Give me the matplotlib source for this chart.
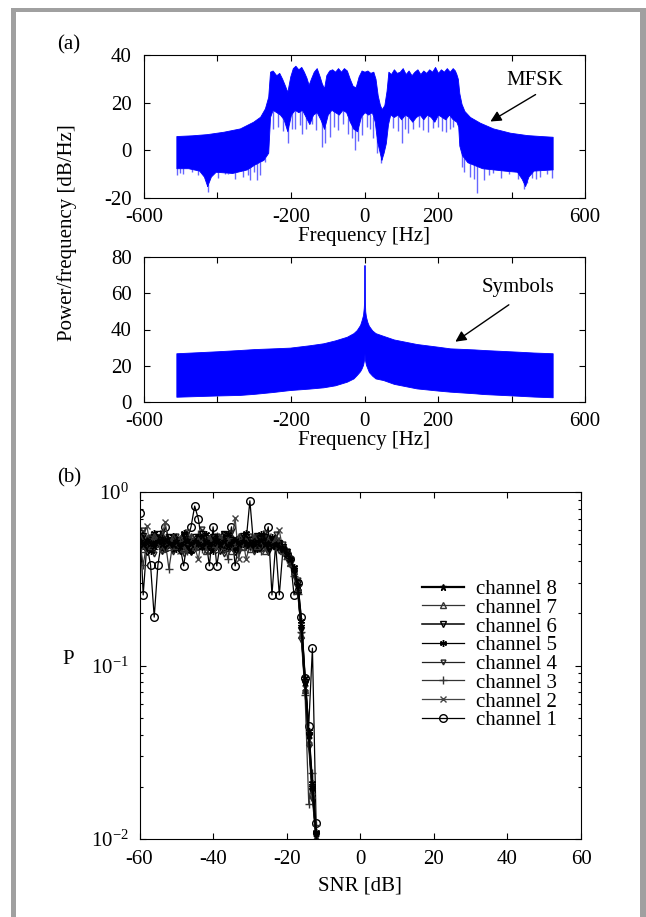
import numpy as np
import matplotlib
matplotlib.use("Agg")
import matplotlib.pyplot as plt
from matplotlib.patches import Rectangle

plt.rcParams["font.family"] = "Liberation Serif"
plt.rcParams["font.size"] = 15
plt.rcParams["axes.unicode_minus"] = False
plt.rcParams["mathtext.fontset"] = "custom"
plt.rcParams["mathtext.rm"] = "Liberation Serif"

# ---- (a) MFSK spectrum envelopes ----
mfsk_up_f = [-512, -470, -429, -384, -339, -303, -284, -271, -262, -257, -250, -240, -232, -224,
             -216, -210, -202, -195, -188, -180, -172, -165, -158, -152, -146, -138, -130, -122,
             -116, -110, -104, -96, -88, -80, -72, -64, -56, -48, -40, -32, -24, -16, -8, 0, 8,
             16, 24, 30, 36, 42, 47, 54, 60, 65, 72, 80, 88, 96, 104, 112, 120, 128, 136, 144,
             152, 160, 168, 176, 184, 192, 200, 208, 216, 224, 232, 240, 246, 250, 254, 258, 264,
             272, 287, 314, 350, 396, 442, 480, 512]
mfsk_up = [6.0, 6.3, 6.8, 7.8, 9.2, 12.0, 14.1, 17.6, 22.5, 33.0, 33.5, 31.5, 32.5, 30.0,
           27.0, 24.5, 31.0, 34.5, 35.5, 34.0, 35.0, 33.0, 30.5, 27.5, 30.0, 33.0, 34.5, 31.0,
           28.0, 26.0, 31.5, 33.5, 34.0, 33.0, 34.5, 33.0, 34.5, 33.5, 30.0, 27.0, 26.5, 31.0,
           33.5, 33.0, 33.5, 32.5, 33.0, 30.0, 23.0, 19.0, 17.3, 19.0, 25.0, 33.0, 32.0, 34.0,
           32.5, 33.0, 34.5, 32.0, 33.5, 31.5, 33.0, 34.0, 32.0, 33.5, 32.5, 34.0, 33.0, 35.0,
           32.5, 34.0, 33.0, 34.5, 33.0, 34.5, 33.5, 32.0, 30.0, 24.0, 19.5, 16.5, 14.0, 11.6,
           9.2, 7.4, 6.4, 6.0, 5.7]
mfsk_lo_f = [-512, -480, -450, -437, -428, -418, -405, -360, -320, -300, -275, -262, -257, -250,
             -240, -230, -220, -210, -200, -190, -180, -170, -160, -150, -140, -130, -120, -110,
             -100, -90, -80, -70, -60, -50, -40, -30, -20, -10, 0, 10, 20, 28, 34, 40, 46, 52,
             58, 64, 70, 80, 90, 100, 110, 120, 130, 140, 150, 160, 170, 180, 190, 200, 210, 220,
             230, 240, 250, 255, 258, 265, 280, 320, 380, 415, 428, 437, 446, 460, 512]
mfsk_lo = [-7.5, -7.5, -8.5, -11.0, -15.0, -11.0, -9.0, -9.5, -8.0, -6.0, -4.0, -1.0, 14.0, 17.0,
           16.0, 15.0, 13.0, 8.0, 15.0, 17.0, 16.0, 17.0, 14.0, 11.0, 15.0, 16.0, 13.0, 9.0,
           15.0, 17.0, 16.0, 15.0, 17.0, 16.0, 12.0, 9.0, 8.0, 14.0, 16.0, 15.0, 16.0, 12.0,
           4.0, 0.0, -4.0, -1.0, 3.0, 11.0, 15.0, 14.0, 15.0, 13.0, 15.0, 14.0, 12.0, 14.0,
           15.0, 13.0, 15.0, 14.0, 12.0, 15.0, 14.0, 13.0, 15.0, 13.0, 12.0, 10.0, 2.0, -2.0,
           -5.0, -7.5, -8.5, -9.0, -12.0, -15.0, -11.0, -8.5, -8.0]
# thin downward spikes below the solid body
mfsk_spike_f = [-510, -502, -493, -470, -452, -426, -398, -380, -371, -352, -330, -318, -312,
                -300, -293, -284, -272, -248, -235, -222, -207, -197, -190, -176, -170, -160,
                -144, -132, -117, -108, -94, -84, -71, -58, -44, -35, -26, -17, -8, 6, 14, 24,
                33, 44, 78, 90, 101, 110, 119, 132, 148, 160, 173, 186, 200, 212, 223, 232, 241,
                264, 272, 287, 298, 307, 324, 338, 351, 372, 392, 418, 433, 442, 456, 468, 478,
                496, 510]
mfsk_spike = [-10.5, -9.5, -10.0, -9.0, -10.5, -17.4, -11.5, -10.0, -10.0, -12.0, -11.0, -10.5,
              -12.5, -9.0, -12.5, -10.5, -5.0, 9.0, 10.0, 8.0, 3.0, 9.0, 9.0, 10.5, 7.0, 9.0,
              11.0, 8.5, 1.5, 3.0, 5.7, 10.0, 8.5, 11.0, 7.0, 5.0, 0.0, 4.0, 6.4, 10.0, 9.0, 5.0,
              -1.3, -5.4, 9.5, 8.0, 3.0, 9.0, 7.1, 9.0, 10.0, 8.5, 7.5, 9.5, 10.0, 8.0, 7.5,
              9.0, 10.0, -6.9, -9.0, -11.0, -12.0, -18.0, -12.5, -10.5, -9.6, -11.5, -10.0,
              -12.0, -16.4, -13.8, -11.5, -12.0, -11.0, -10.0, -11.5]

# ---- (a) symbol spectrum envelopes ----
sym_f = [-512, -450, -400, -339, -300, -250, -203, -150, -112, -80, -48, -30, -21, -12, -8, -4,
         -2, -1, 0, 1, 2, 4, 8, 12, 21, 30, 51, 80, 142, 200, 233, 300, 323, 414, 460, 512]
sym_up = [26.9, 27.5, 28.0, 28.7, 29.2, 29.6, 30.0, 31.3, 32.4, 34.0, 36.0, 38.0, 39.7, 42.5,
          45.0, 48.0, 52.0, 56.0, 75.6, 56.0, 50.0, 47.0, 44.0, 42.0, 39.5, 38.0, 36.5, 34.5,
          32.0, 30.5, 29.6, 29.0, 28.7, 27.8, 27.3, 26.9]
sym_lo = [2.9, 3.3, 3.6, 3.9, 4.5, 5.5, 6.6, 7.4, 8.1, 9.2, 11.2, 13.0, 14.9, 17.0, 18.5, 20.5,
          22.5, 24.0, 26.9, 24.0, 22.5, 20.5, 18.5, 16.5, 14.5, 13.0, 12.1, 10.0, 7.5, 6.3, 5.7,
          4.8, 4.4, 3.5, 3.0, 2.6]

# ---- (b) detection probability per channel ----
snr = np.arange(-60, -10, 1)
ch1 = [0.76, 0.255, 0.50, 0.38, 0.19, 0.38, 0.52, 0.63, 0.54, 0.50,
       0.52, 0.49, 0.375, 0.53, 0.63, 0.83, 0.70, 0.50, 0.54, 0.375,
       0.63, 0.375, 0.51, 0.56, 0.48, 0.63, 0.375, 0.52, 0.49, 0.53,
       0.89, 0.50, 0.54, 0.48, 0.52, 0.63, 0.255, 0.50, 0.255, 0.47,
       0.44, 0.41, 0.255, 0.30, 0.19, 0.085, 0.045, 0.126, 0.0123, 0.005]
ch2 = [0.49, 0.54, 0.64, 0.47, 0.52, 0.50, 0.55, 0.67, 0.48, 0.53,
       0.51, 0.46, 0.55, 0.49, 0.53, 0.48, 0.41, 0.56, 0.52, 0.50,
       0.54, 0.48, 0.52, 0.57, 0.49, 0.53, 0.705, 0.41, 0.55, 0.41,
       0.50, 0.55, 0.47, 0.52, 0.49, 0.56, 0.48, 0.53, 0.60, 0.46,
       0.44, 0.39, 0.36, 0.28, 0.15, 0.074, 0.037, 0.019, 0.0101, 0.005]
ch3 = [0.53, 0.38, 0.51, 0.56, 0.47, 0.54, 0.49, 0.52, 0.36, 0.50,
       0.55, 0.48, 0.52, 0.46, 0.54, 0.50, 0.57, 0.47, 0.53, 0.49,
       0.51, 0.56, 0.48, 0.53, 0.41, 0.55, 0.50, 0.47, 0.54, 0.51,
       0.48, 0.53, 0.50, 0.46, 0.56, 0.49, 0.54, 0.47, 0.52, 0.45,
       0.41, 0.42, 0.33, 0.26, 0.157, 0.068, 0.016, 0.024, 0.012, 0.0052]
ch4 = [0.50, 0.60, 0.47, 0.55, 0.44, 0.52, 0.58, 0.48, 0.53, 0.45,
       0.56, 0.50, 0.44, 0.59, 0.52, 0.47, 0.55, 0.61, 0.46, 0.53,
       0.48, 0.56, 0.52, 0.44, 0.50, 0.58, 0.53, 0.46, 0.55, 0.49,
       0.56, 0.45, 0.53, 0.50, 0.58, 0.47, 0.52, 0.57, 0.46, 0.50,
       0.46, 0.38, 0.33, 0.31, 0.14, 0.07, 0.034, 0.017, 0.0098, 0.0046]
ch5 = [0.57, 0.49, 0.52, 0.46, 0.58, 0.51, 0.54, 0.47, 0.50, 0.56,
       0.47, 0.53, 0.58, 0.50, 0.46, 0.52, 0.55, 0.48, 0.57, 0.51,
       0.46, 0.55, 0.51, 0.48, 0.57, 0.50, 0.47, 0.54, 0.50, 0.58,
       0.49, 0.51, 0.47, 0.57, 0.52, 0.48, 0.55, 0.51, 0.50, 0.47,
       0.42, 0.41, 0.37, 0.27, 0.18, 0.085, 0.042, 0.021, 0.011, 0.0055]
ch6 = [0.48, 0.56, 0.45, 0.53, 0.50, 0.57, 0.46, 0.52, 0.55, 0.47,
       0.53, 0.46, 0.56, 0.49, 0.45, 0.55, 0.48, 0.57, 0.51, 0.46,
       0.55, 0.50, 0.46, 0.57, 0.48, 0.53, 0.45, 0.52, 0.56, 0.49,
       0.53, 0.47, 0.56, 0.48, 0.55, 0.45, 0.53, 0.49, 0.51, 0.48,
       0.45, 0.40, 0.34, 0.30, 0.16, 0.078, 0.039, 0.019, 0.0104, 0.0051]
ch7 = [0.55, 0.47, 0.54, 0.49, 0.56, 0.50, 0.47, 0.53, 0.48, 0.55,
       0.49, 0.54, 0.47, 0.52, 0.56, 0.48, 0.53, 0.50, 0.46, 0.54,
       0.50, 0.47, 0.55, 0.49, 0.53, 0.46, 0.51, 0.56, 0.48, 0.52,
       0.47, 0.55, 0.49, 0.53, 0.46, 0.52, 0.50, 0.54, 0.49, 0.46,
       0.43, 0.39, 0.35, 0.28, 0.15, 0.072, 0.036, 0.018, 0.0102, 0.0048]
ch8 = [0.52, 0.50, 0.53, 0.51, 0.49, 0.52, 0.50, 0.53, 0.51, 0.50,
       0.52, 0.49, 0.51, 0.53, 0.50, 0.52, 0.51, 0.49, 0.52, 0.50,
       0.51, 0.53, 0.50, 0.52, 0.49, 0.51, 0.53, 0.50, 0.52, 0.51,
       0.50, 0.52, 0.51, 0.53, 0.50, 0.51, 0.49, 0.50, 0.48, 0.47,
       0.44, 0.41, 0.36, 0.29, 0.17, 0.08, 0.040, 0.020, 0.0108, 0.0052]
channels = [ch1, ch2, ch3, ch4, ch5, ch6, ch7, ch8]
ch_labels = ["channel %d" % i for i in range(1, 9)]

BLUE = "#0000ff"


def style_axes(ax, xpad=7, ypad=9):
    ax.tick_params(direction="in", which="both", top=True, right=True, length=4.5, width=0.8)
    ax.tick_params(which="minor", length=2.5)
    ax.tick_params(axis="x", pad=xpad)
    ax.tick_params(axis="y", pad=ypad)
    for s in ax.spines.values():
        s.set_linewidth(0.8)


fig = plt.figure(figsize=(6.46, 9.17), dpi=100)
W, H = 646.0, 917.0

# gray frame (left, top, right strips; open at the bottom)
gray = "#a0a0a0"
fig.add_artist(Rectangle((11 / W, 0), 5 / W, 1 - 8 / H, transform=fig.transFigure, color=gray, lw=0))
fig.add_artist(Rectangle((11 / W, 1 - 12.3 / H), 635 / W, 4.3 / H, transform=fig.transFigure, color=gray, lw=0))
fig.add_artist(Rectangle((640 / W, 0), 6 / W, 1 - 8 / H, transform=fig.transFigure, color=gray, lw=0))

freq_ticks = [-600, -400, -200, 0, 200, 400, 600]
freq_ticklabels = ["-600", "", "-200", "0", "200", "", "600"]

# --- MFSK spectrum ---
ax1 = fig.add_axes([144 / W, 1 - 198 / H, 441 / W, 143 / H])
fgrid = np.union1d(mfsk_up_f, mfsk_lo_f)
ax1.fill_between(fgrid, np.interp(fgrid, mfsk_lo_f, mfsk_lo), np.interp(fgrid, mfsk_up_f, mfsk_up),
                 color=BLUE, lw=0.6, edgecolor=BLUE)
ax1.vlines(mfsk_spike_f, np.interp(mfsk_spike_f, mfsk_lo_f, mfsk_lo), mfsk_spike,
           color=BLUE, lw=1.0, alpha=0.6)
ax1.set_xlim(-600, 600)
ax1.set_ylim(-20, 40)
ax1.set_yticks([-20, 0, 20, 40])
ax1.set_xticks(freq_ticks)
ax1.set_xticklabels(freq_ticklabels)
ax1.set_xlabel("Frequency [Hz]", labelpad=0.5)
ax1.annotate("", xy=(336, 11.5), xytext=(472, 24),
             arrowprops=dict(arrowstyle="-|>", color="black", lw=1.0, mutation_scale=16))
ax1.text(464, 29.5, "MFSK", ha="center", va="center")
style_axes(ax1)

# --- symbol spectrum ---
ax2 = fig.add_axes([144 / W, 1 - 402 / H, 441 / W, 145 / H])
ax2.fill_between(sym_f, sym_lo, sym_up, color=BLUE, lw=0.6, edgecolor=BLUE)
ax2.set_xlim(-600, 600)
ax2.set_ylim(0, 80)
ax2.set_yticks([0, 20, 40, 60, 80])
ax2.set_xticks(freq_ticks)
ax2.set_xticklabels(freq_ticklabels)
ax2.set_xlabel("Frequency [Hz]", labelpad=0.5)
ax2.annotate("", xy=(241, 32.4), xytext=(399, 54.5),
             arrowprops=dict(arrowstyle="-|>", color="black", lw=1.0, mutation_scale=16))
ax2.text(418, 62.9, "Symbols", ha="center", va="center")
style_axes(ax2)

fig.text(67 / W, 1 - 233 / H, "Power/frequency [dB/Hz]", rotation=90, ha="center", va="center")
fig.text(69 / W, 1 - 45 / H, "(a)", ha="center", va="center")

# --- detection curves ---
ax3 = fig.add_axes([139.5 / W, 1 - 839 / H, 441.5 / W, 347 / H])
markers = ["o", "x", "+", "v", (6, 2, 0), "v", "^", "*"]
msizes = [5.5, 4, 6, 3.5, 5, 4.5, 4.5, 5]
colors = ["black", "#444444", "#333333", "#222222", "black", "black", "#333333", "black"]
lws = [0.9, 0.9, 0.9, 0.9, 0.9, 1.1, 0.9, 1.6]
handles = []
for vals, lab, mk, ms, c, lw in zip(channels, ch_labels, markers, msizes, colors, lws):
    h, = ax3.plot(snr, vals, color=c, lw=lw, marker=mk, ms=ms, mfc="none", mec=c, mew=1.0, label=lab)
    handles.append(h)
ax3.set_yscale("log")
ax3.set_xlim(-60, 60)
ax3.set_ylim(1e-2, 1)
ax3.set_xticks([-60, -40, -20, 0, 20, 40, 60])
ax3.set_xlabel("SNR [dB]", labelpad=5)
style_axes(ax3, xpad=8, ypad=8)
ax3.legend(handles[::-1], ch_labels[::-1], loc="upper left", bbox_to_anchor=(0.64, 0.748),
           frameon=False, handlelength=2.0, handletextpad=0.6, labelspacing=-0.04,
           borderpad=0.0, borderaxespad=0.0, fontsize=15)
fig.text(68 / W, 1 - 660 / H, "P", ha="center", va="center")
fig.text(69 / W, 1 - 478 / H, "(b)", ha="center", va="center")

fig.savefig("out.png", dpi=100)
